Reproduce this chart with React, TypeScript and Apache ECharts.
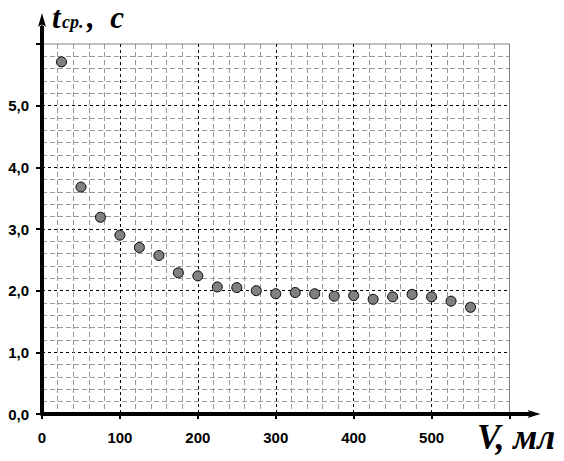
import React, { useEffect, useRef } from "react";
import * as echarts from "echarts";

const volumes = [25, 50, 75, 100, 125, 150, 175, 200, 225, 250, 275, 300, 325, 350, 375, 400, 425, 450, 475, 500, 525, 550];
const times = [5.71, 3.68, 3.19, 2.9, 2.7, 2.57, 2.29, 2.24, 2.06, 2.05, 2.0, 1.95, 1.97, 1.95, 1.91, 1.92, 1.86, 1.9, 1.94, 1.9, 1.83, 1.73];
const xRange = [0, 600];
const yRange = [0, 6];

const W = 564;
const H = 461;
const GL = 42;
const GR = 54.5;
const GT = 44;
const GB = 47;

export default function App() {
  const ref = useRef<HTMLDivElement>(null);
  useEffect(() => {
    if (!ref.current) return;
    const chart = echarts.init(ref.current, undefined, { renderer: "svg" });
    const axisY = H - GB;
    const axisRight = W - GR;
    const serif = "'Liberation Serif', 'Times New Roman', serif";
    const sans = "'Liberation Sans', Arial, sans-serif";
    chart.setOption({
      animation: false,
      backgroundColor: "#fff",
      grid: { left: GL, right: GR, top: GT, bottom: GB, show: true, borderColor: "#808080", borderWidth: 1 },
      xAxis: {
        type: "value",
        min: xRange[0],
        max: xRange[1],
        interval: 100,
        axisLine: { show: true, onZero: false, lineStyle: { color: "#000", width: 4 } },
        axisTick: { show: true, length: 5, lineStyle: { color: "#000", width: 2 } },
        axisLabel: {
          margin: 16,
          color: "#000",
          fontFamily: sans,
          fontWeight: "bold",
          fontSize: 15,
          formatter: (v: number) => (v === xRange[1] ? "" : String(v)),
        },
        splitLine: { show: true, showMinLine: false, showMaxLine: false, lineStyle: { color: "#000", type: [3, 3], width: 1 } },
        minorTick: { show: false, splitNumber: 5 },
        minorSplitLine: { show: true, lineStyle: { color: "#999", type: [5, 3], width: 1 } },
      },
      yAxis: {
        type: "value",
        min: yRange[0],
        max: yRange[1],
        interval: 1,
        axisLine: { show: true, onZero: false, lineStyle: { color: "#000", width: 4 } },
        axisTick: { show: true, length: 6, lineStyle: { color: "#000", width: 2 } },
        axisLabel: {
          margin: 13,
          color: "#000",
          fontFamily: sans,
          fontWeight: "bold",
          fontSize: 15,
          formatter: (v: number) => (v === yRange[1] ? "" : v.toFixed(1).replace(".", ",")),
        },
        splitLine: { show: true, showMinLine: false, showMaxLine: false, lineStyle: { color: "#000", type: [3, 3], width: 1 } },
        minorTick: { show: false, splitNumber: 5 },
        minorSplitLine: { show: true, lineStyle: { color: "#999", type: [5, 3], width: 1 } },
      },
      series: [
        {
          type: "scatter",
          data: volumes.map((v, i) => [v, times[i]]),
          symbol: "circle",
          symbolSize: 10,
          itemStyle: { color: "#808080", borderColor: "#000", borderWidth: 1, opacity: 1 },
          z: 5,
        },
      ],
      graphic: [
        { type: "line", z: 10, shape: { x1: axisRight - 2, y1: axisY, x2: axisRight + 21, y2: axisY }, style: { stroke: "#000", lineWidth: 4 } },
        { type: "line", z: 10, shape: { x1: axisRight + 20, y1: axisY, x2: axisRight + 28, y2: axisY }, style: { stroke: "#000", lineWidth: 1.5 } },
        {
          type: "polygon",
          z: 10,
          shape: { points: [[axisRight + 31, axisY], [axisRight + 18, axisY - 4], [axisRight + 21, axisY], [axisRight + 18, axisY + 4]] },
          style: { fill: "#000" },
        },
        { type: "line", z: 10, shape: { x1: GL, y1: GT + 2, x2: GL, y2: GT - 18 }, style: { stroke: "#000", lineWidth: 4 } },
        { type: "line", z: 10, shape: { x1: GL, y1: GT - 17, x2: GL, y2: GT - 25 }, style: { stroke: "#000", lineWidth: 1.5 } },
        {
          type: "polygon",
          z: 10,
          shape: { points: [[GL, GT - 31], [GL - 4, GT - 17], [GL, GT - 20], [GL + 4, GT - 17]] },
          style: { fill: "#000" },
        },
        { type: "text", z: 10, x: 52, y: 17, style: { text: "t", font: `italic bold 31px ${serif}`, fill: "#000", verticalAlign: "middle" } },
        { type: "text", z: 10, x: 62, y: 22, style: { text: "ср.", font: `italic bold 18px ${serif}`, fill: "#000", verticalAlign: "middle" } },
        { type: "text", z: 10, x: 87, y: 17, style: { text: ",  с", font: `italic bold 31px ${serif}`, fill: "#000", verticalAlign: "middle" } },
        { type: "text", z: 10, x: 477, y: 437, style: { text: "V, мл", font: `italic bold 35px ${serif}`, fill: "#000", verticalAlign: "middle" } },
      ],
    });
    return () => chart.dispose();
  }, []);
  return <div ref={ref} style={{ position: "absolute", left: 0, top: 0, width: W, height: H }} />;
}
